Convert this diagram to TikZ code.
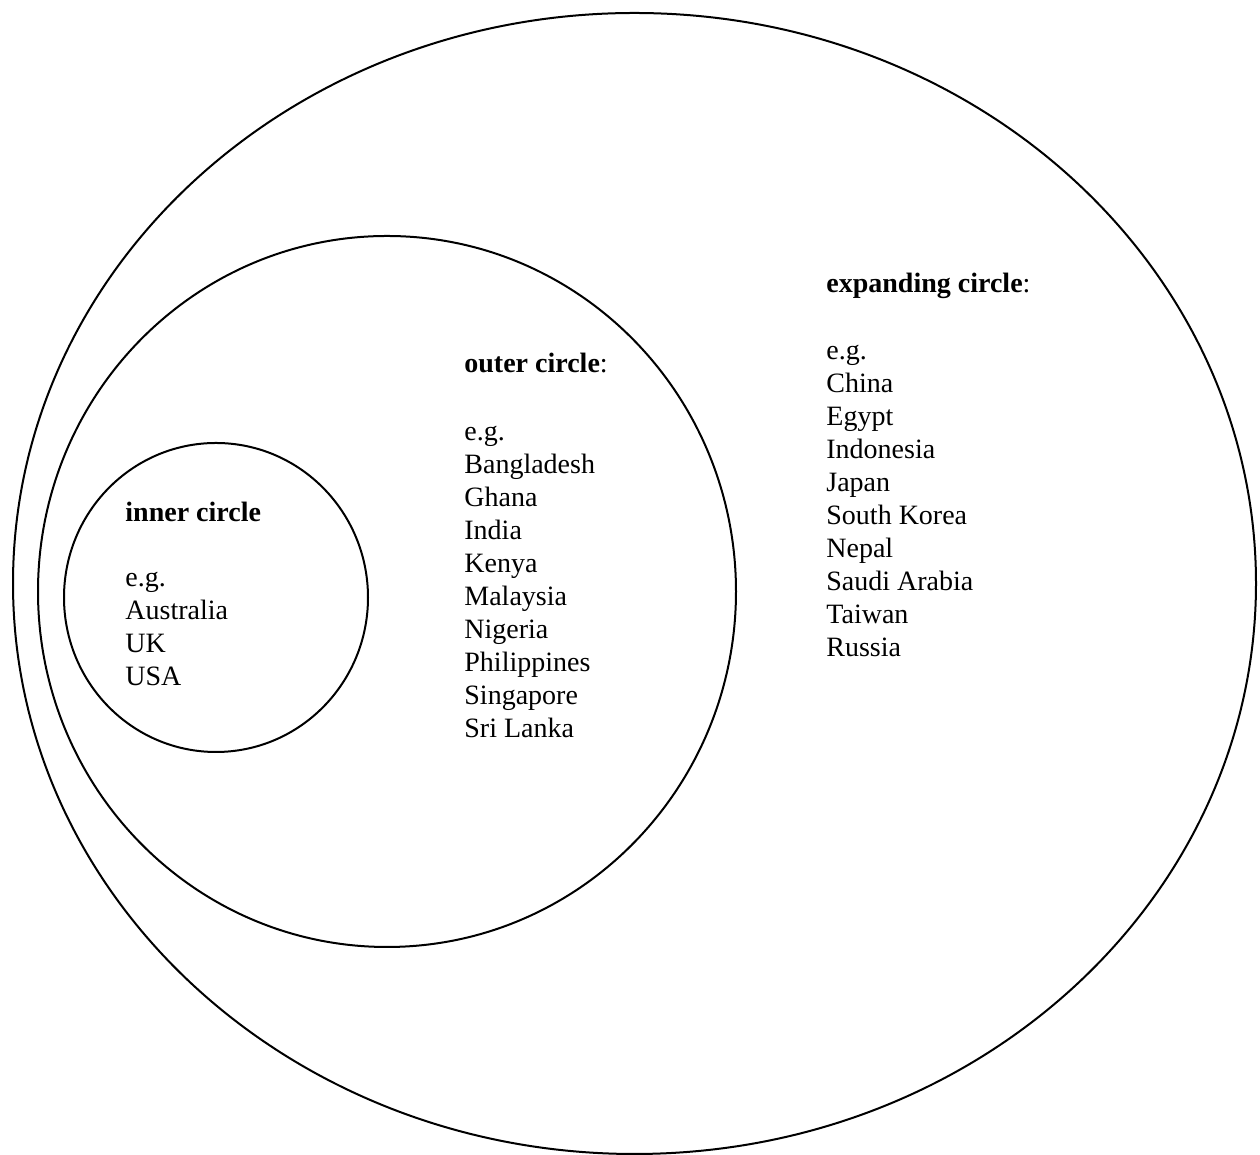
\documentclass[tikz,border=0pt]{standalone}
\usepackage{fontspec}
\setmainfont{Liberation Serif}
\usetikzlibrary{positioning}

\begin{document}
\begin{tikzpicture}[x=0.5pt,y=0.5pt]
  \tikzstyle{ring}=[draw=black,line width=1pt]
  \tikzstyle{word}=[inner sep=0pt,anchor=base west,font=\fontsize{14pt}{16.5pt}\selectfont]
  \tikzstyle{head}=[word]
  \useasboundingbox (0,0) rectangle (1260,1155);

  % the three circles
  \coordinate (cexp) at (634.5,571.5);
  \coordinate (cout) at (387,563.5);
  \coordinate (cinn) at (216,557.5);
  \draw[ring] (cexp) ellipse [x radius=310.75pt,y radius=285.25pt];
  \draw[ring] (cout) ellipse [x radius=174.5pt,y radius=177.75pt];
  \draw[ring] (cinn) ellipse [x radius=76pt,y radius=77.25pt];

  % inner circle
  \node[head] (inn) at (125,633) {\textbf{inner circle}};
  \foreach \name [count=\i from 0] in {e.g.,Australia,UK,USA}
    \node[word] (inn-\i) at (125,568.5-33*\i) {\name};

  % outer circle
  \node[head] (out) at (464,782) {\textbf{outer circle}:};
  \foreach \name [count=\i from 0] in {e.g.,Bangladesh,Ghana,India,Kenya,Malaysia,Nigeria,Philippines,Singapore,Sri Lanka}
    \node[word] (out-\i) at (464,714-33*\i) {\name};

  % expanding circle
  \node[head] (exp) at (826,862) {\textbf{expanding circle}:};
  \foreach \name [count=\i from 0] in {e.g.,China,Egypt,Indonesia,Japan,South Korea,Nepal,Saudi Arabia,Taiwan,Russia}
    \node[word] (exp-\i) at (826,795-33*\i) {\name};
\end{tikzpicture}
\end{document}
